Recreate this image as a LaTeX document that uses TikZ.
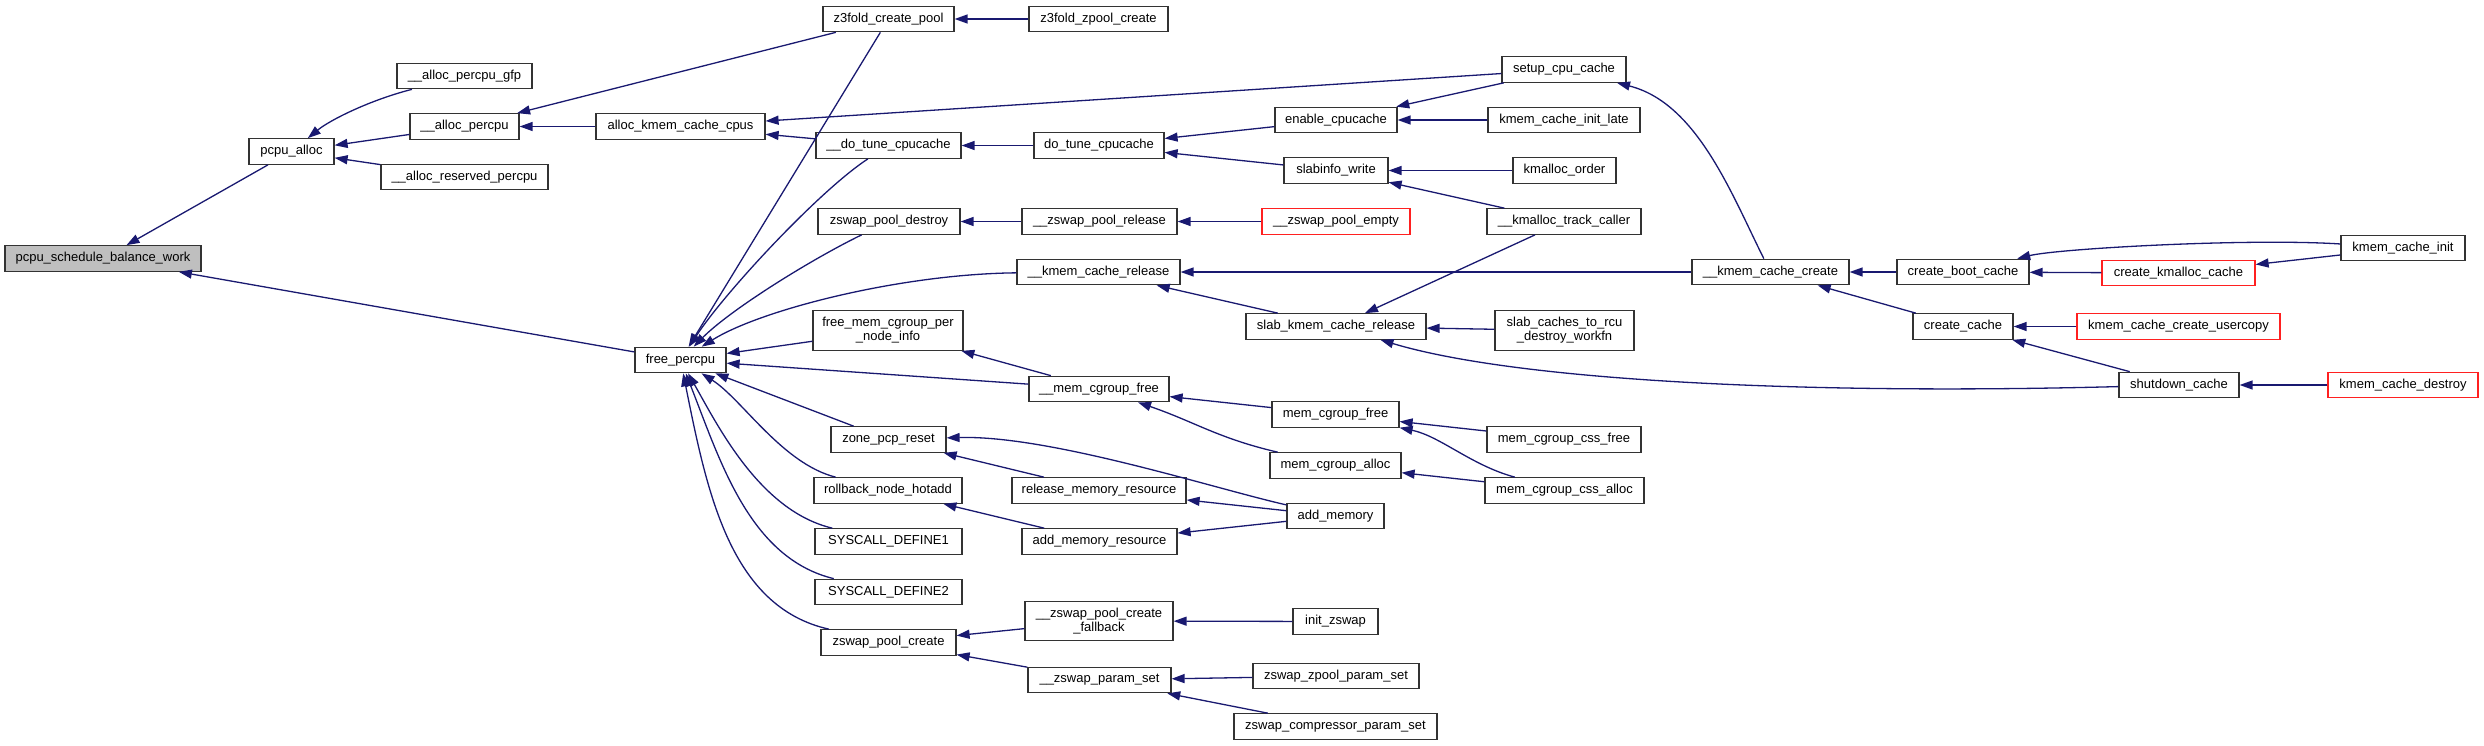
\documentclass[tikz,border=0pt]{standalone}
\usepackage{fontspec}
\setmainfont{Liberation Sans}
\usetikzlibrary{arrows.meta}
\definecolor{edgec}{HTML}{191970}
\definecolor{rootfill}{HTML}{BFBFBF}
\definecolor{redborder}{HTML}{FF2020}
\definecolor{boxborder}{HTML}{333333}
\tikzset{
  fn/.style={draw=boxborder, line width=1.2pt, fill=white, inner sep=0pt,
    minimum height=25.5pt, align=center, text=black,
    font=\fontsize{13pt}{14pt}\selectfont},
  fntwo/.style={fn, minimum height=39.5pt},
  rootfn/.style={fn, fill=rootfill},
  redfn/.style={fn, draw=redborder},
  cedge/.style={draw=edgec, line width=1.3pt, -{Triangle[length=13pt,width=9pt]}}
}
\begin{document}
\begin{tikzpicture}[x=1pt,y=-1pt]
\useasboundingbox (0,0) rectangle (2484,745);
% column 0-3
\node[rootfn, minimum width=196pt] (root) at (103,258.5) {pcpu\_schedule\_balance\_work};
\node[fn, minimum width=85pt] (pcpualloc) at (291.5,151.5) {pcpu\_alloc};
\node[fn, minimum width=135pt] (gfp) at (464.5,76) {\_\_alloc\_percpu\_gfp};
\node[fn, minimum width=109pt] (allocpercpu) at (464.5,126.5) {\_\_alloc\_percpu};
\node[fn, minimum width=167pt] (reserved) at (464.5,177) {\_\_alloc\_reserved\_percpu};
\node[fn, minimum width=169pt] (akcc) at (680.5,126.5) {alloc\_kmem\_cache\_cpus};
\node[fn, minimum width=91pt] (freepercpu) at (680.5,360) {free\_percpu};
% column 4
\node[fn, minimum width=131pt] (z3create) at (888.5,19) {z3fold\_create\_pool};
\node[fn, minimum width=145pt] (dotune) at (888.5,145.5) {\_\_do\_tune\_cpucache};
\node[fn, minimum width=142pt] (zpdestroy) at (889,221.5) {zswap\_pool\_destroy};
\node[fntwo, minimum width=150pt] (freemem) at (888,330.5) {free\_mem\_cgroup\_per\\\_node\_info};
\node[fn, minimum width=115pt] (zonepcp) at (888.5,439.5) {zone\_pcp\_reset};
\node[fn, minimum width=148pt] (rollback) at (888,490.5) {rollback\_node\_hotadd};
\node[fn, minimum width=147pt] (sysdef1) at (888.5,541.5) {SYSCALL\_DEFINE1};
\node[fn, minimum width=147pt] (sysdef2) at (888.5,592) {SYSCALL\_DEFINE2};
\node[fn, minimum width=135pt] (zpcreate) at (888.5,642.5) {zswap\_pool\_create};
% column 5
\node[fn, minimum width=139pt] (z3zpool) at (1098.5,19) {z3fold\_zpool\_create};
\node[fn, minimum width=130pt] (dotune2) at (1099,145.5) {do\_tune\_cpucache};
\node[fn, minimum width=155pt] (zprelease) at (1099.5,221.5) {\_\_zswap\_pool\_release};
\node[fn, minimum width=163pt] (kcrelease) at (1098.5,272) {\_\_kmem\_cache\_release};
\node[fn, minimum width=140pt] (memcgfree) at (1099,389) {\_\_mem\_cgroup\_free};
\node[fn, minimum width=174pt] (relmem) at (1099,490.5) {release\_memory\_resource};
\node[fn, minimum width=155pt] (addmemres) at (1099.5,541.5) {add\_memory\_resource};
\node[fntwo, minimum width=148pt] (fallback) at (1099,621) {\_\_zswap\_pool\_create\\\_fallback};
\node[fn, minimum width=143pt] (paramset) at (1099.5,680) {\_\_zswap\_param\_set};
% column 6
\node[fn, minimum width=122pt] (enable) at (1336,120) {enable\_cpucache};
\node[fn, minimum width=104pt] (slabinfo) at (1336,170.5) {slabinfo\_write};
\node[redfn, minimum width=148pt] (zpempty) at (1336,221.5) {\_\_zswap\_pool\_empty};
\node[fn, minimum width=180pt] (slabrel) at (1336,326.5) {slab\_kmem\_cache\_release};
\node[fn, minimum width=127pt] (mcgfree) at (1335.5,414.5) {mem\_cgroup\_free};
\node[fn, minimum width=131pt] (mcgalloc) at (1335.5,465.5) {mem\_cgroup\_alloc};
\node[fn, minimum width=97pt] (addmem) at (1335.5,516) {add\_memory};
\node[fn, minimum width=85pt] (initzswap) at (1335.5,621.5) {init\_zswap};
\node[fn, minimum width=166pt] (zpoolps) at (1336,676) {zswap\_zpool\_param\_set};
\node[fn, minimum width=203pt] (compps) at (1335.5,726.5) {zswap\_compressor\_param\_set};
% column 7
\node[fn, minimum width=124pt] (setupcc) at (1564,69.5) {setup\_cpu\_cache};
\node[fn, minimum width=152pt] (initlate) at (1564,120) {kmem\_cache\_init\_late};
\node[fn, minimum width=103pt] (kmorder) at (1564.5,170.5) {kmalloc\_order};
\node[fn, minimum width=154pt] (kmtrack) at (1564,221.5) {\_\_kmalloc\_track\_caller};
\node[fntwo, minimum width=139pt] (rcudestroy) at (1564.5,330.5) {slab\_caches\_to\_rcu\\\_destroy\_workfn};
\node[fn, minimum width=154pt] (cssfree) at (1564,439.5) {mem\_cgroup\_css\_free};
\node[fn, minimum width=159pt] (cssalloc) at (1564.5,490.5) {mem\_cgroup\_css\_alloc};
% columns 8-11
\node[fn, minimum width=157pt] (kccreate) at (1770.5,272) {\_\_kmem\_cache\_create};
\node[fn, minimum width=132pt] (bootcache) at (1963,272) {create\_boot\_cache};
\node[fn, minimum width=100pt] (createcache) at (1963,326.5) {create\_cache};
\node[redfn, minimum width=153pt] (kmalloccache) at (2178.5,273) {create\_kmalloc\_cache};
\node[redfn, minimum width=203pt] (usercopy) at (2178.5,326.5) {kmem\_cache\_create\_usercopy};
\node[fn, minimum width=120pt] (shutdown) at (2179,385) {shutdown\_cache};
\node[fn, minimum width=124pt] (kcinit) at (2403,248) {kmem\_cache\_init};
\node[redfn, minimum width=150pt] (kcdestroy) at (2403,385) {kmem\_cache\_destroy};
% edges (caller -> callee)
\draw[cedge] (pcpualloc) -- (root);
\draw[cedge] (freepercpu) -- (root);
\draw[cedge] (gfp) .. controls (370,100) and (330,120) .. (pcpualloc);
\draw[cedge] (allocpercpu) -- (pcpualloc);
\draw[cedge] (reserved) -- (pcpualloc);
\draw[cedge] (akcc) -- (allocpercpu);
\draw[cedge] (z3create) -- (allocpercpu);
\draw[cedge] (setupcc) -- (akcc);
\draw[cedge] (dotune) -- (akcc);
\draw[cedge] (z3create) -- (freepercpu);
\draw[cedge] (dotune) .. controls (820,190) and (725,292) .. (freepercpu);
\draw[cedge] (zpdestroy) .. controls (810,260) and (730,310) .. (freepercpu);
\draw[cedge] (kcrelease) .. controls (900,274) and (760,310) .. (freepercpu);
\draw[cedge] (freemem) -- (freepercpu);
\draw[cedge] (memcgfree) -- (freepercpu);
\draw[cedge] (zonepcp) -- (freepercpu);
\draw[cedge] (rollback) .. controls (782,463.5) and (742,399) .. (freepercpu);
\draw[cedge] (sysdef1) .. controls (760,511) and (718,426) .. (freepercpu);
\draw[cedge] (sysdef2) .. controls (749,558) and (720,460) .. (freepercpu);
\draw[cedge] (zpcreate) .. controls (730,607) and (707,492) .. (freepercpu);
\draw[cedge] (memcgfree) -- (freemem);
\draw[cedge] (z3zpool) -- (z3create);
\draw[cedge] (dotune2) -- (dotune);
\draw[cedge] (enable) -- (dotune2);
\draw[cedge] (slabinfo) -- (dotune2);
\draw[cedge] (setupcc) -- (enable);
\draw[cedge] (initlate) -- (enable);
\draw[cedge] (kmorder) -- (slabinfo);
\draw[cedge] (kmtrack) -- (slabinfo);
\draw[cedge] (zprelease) -- (zpdestroy);
\draw[cedge] (zpempty) -- (zprelease);
\draw[cedge] (kccreate) -- (kcrelease);
\draw[cedge] (slabrel) -- (kcrelease);
\draw[cedge] (kmtrack) -- (slabrel);
\draw[cedge] (rcudestroy) -- (slabrel);
\draw[cedge] (shutdown) .. controls (1800,395) and (1516,380.5) .. (slabrel);
\draw[cedge] (kccreate) .. controls (1731.5,194) and (1697,103) .. (setupcc);
\draw[cedge] (bootcache) -- (kccreate);
\draw[cedge] (createcache) -- (kccreate);
\draw[cedge] (kmalloccache) -- (bootcache);
\draw[cedge] (kcinit) .. controls (2248,238) and (2058,248.6) .. (bootcache);
\draw[cedge] (kcinit) -- (kmalloccache);
\draw[cedge] (usercopy) -- (createcache);
\draw[cedge] (shutdown) -- (createcache);
\draw[cedge] (kcdestroy) -- (shutdown);
\draw[cedge] (mcgfree) -- (memcgfree);
\draw[cedge] (mcgalloc) .. controls (1218.5,438.5) and (1194,421.5) .. (memcgfree);
\draw[cedge] (cssfree) -- (mcgfree);
\draw[cedge] (cssalloc) .. controls (1471.5,465.5) and (1440,436) .. (mcgfree);
\draw[cedge] (cssalloc) -- (mcgalloc);
\draw[cedge] (relmem) -- (zonepcp);
\draw[cedge] (addmem) .. controls (1214,488.5) and (1049.5,435) .. (zonepcp);
\draw[cedge] (addmemres) -- (rollback);
\draw[cedge] (addmem) -- (relmem);
\draw[cedge] (addmem) -- (addmemres);
\draw[cedge] (fallback) -- (zpcreate);
\draw[cedge] (paramset) -- (zpcreate);
\draw[cedge] (initzswap) -- (fallback);
\draw[cedge] (zpoolps) -- (paramset);
\draw[cedge] (compps) -- (paramset);
\end{tikzpicture}
\end{document}
